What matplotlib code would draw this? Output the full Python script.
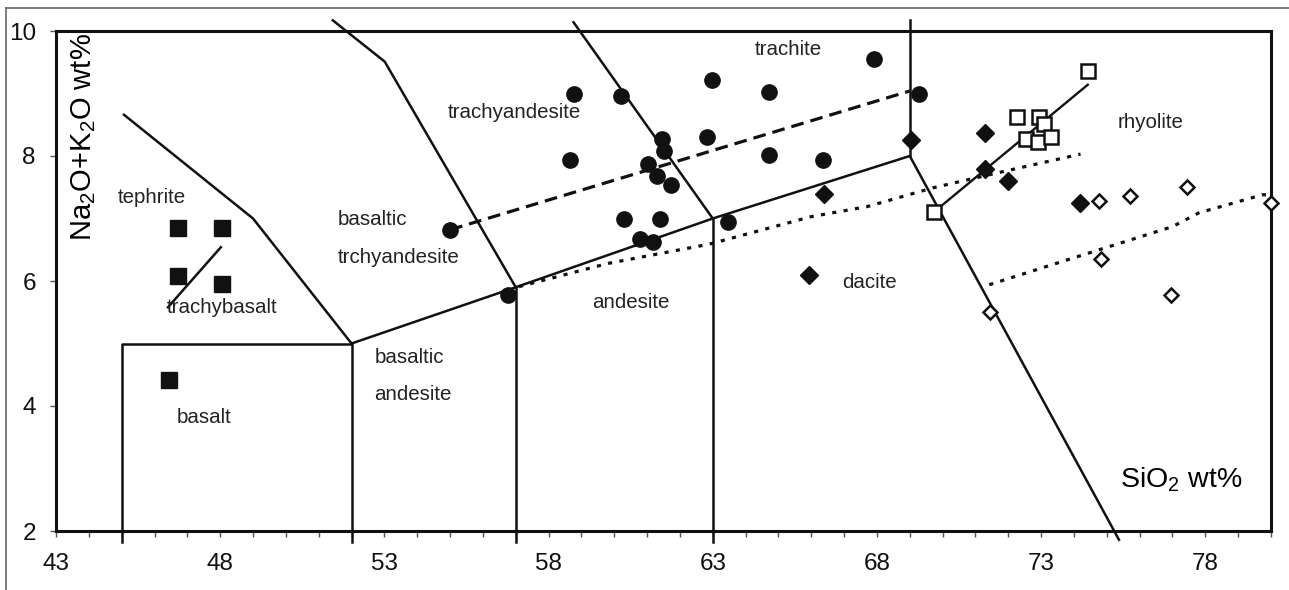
import matplotlib
matplotlib.use("Agg")
import matplotlib.pyplot as plt
from matplotlib.lines import Line2D
from matplotlib.ticker import MultipleLocator

plt.rcParams['font.family'] = ['Liberation Sans', 'DejaVu Sans']
plt.rcParams['mathtext.fontset'] = 'custom'
plt.rcParams['mathtext.rm'] = 'Liberation Sans'
plt.rcParams['mathtext.default'] = 'rm'

# --- data (SiO2, Na2O+K2O) ---
sq_filled_x = [46.7, 48.05, 46.7, 48.05, 46.45]
sq_filled_y = [6.85, 6.85, 6.08, 5.95, 4.42]

circ_x = [55.0, 56.76, 58.77, 58.64, 60.21, 61.45, 61.53, 61.02, 61.3, 61.73, 60.29,
          61.38, 60.77, 61.18, 62.98, 62.82, 63.46, 64.7, 64.7, 66.35, 67.92, 69.29]
circ_y = [6.82, 5.78, 8.99, 7.94, 8.96, 8.28, 8.08, 7.87, 7.68, 7.54, 7.0,
          7.0, 6.67, 6.63, 9.22, 8.31, 6.95, 9.03, 8.02, 7.94, 9.56, 8.99]

dia_filled_x = [66.4, 65.93, 69.04, 71.3, 71.3, 72.0, 74.18]
dia_filled_y = [7.39, 6.1, 8.26, 8.37, 7.8, 7.6, 7.25]

dia_open_x = [74.77, 75.7, 77.44, 80.0, 74.82, 76.95, 71.44]
dia_open_y = [7.28, 7.36, 7.51, 7.25, 6.35, 5.77, 5.51]

sq_open_x = [69.75, 74.42, 72.26, 72.94, 73.1, 72.54, 72.91, 73.3]
sq_open_y = [7.11, 9.36, 8.62, 8.63, 8.52, 8.27, 8.23, 8.31]

# TAS field boundaries
bounds = [
    ([45, 45, 52, 52], [1.83, 5, 5, 1.83]),
    ([52, 57, 63, 69, 75.37], [5, 5.9, 7, 8, 1.86]),
    ([57, 57], [5.9, 1.83]),
    ([63, 63], [7, 1.83]),
    ([69, 69], [8, 10.18]),
    ([45.07, 49.0, 52], [8.66, 7.0, 5]),
    ([51.43, 53.01, 57], [10.17, 9.51, 5.9]),
    ([58.76, 63], [10.14, 7]),
    ([48.02, 46.41], [6.54, 5.58]),
]
trend_solid_x = [69.75, 74.42]
trend_solid_y = [7.11, 9.14]
trend_dash_x = [55.0, 69.0]
trend_dash_y = [6.82, 9.04]
dot1_x = [57.1, 59.8, 62.9, 66.0, 67.7, 69.7, 71.5, 74.2]
dot1_y = [5.91, 6.28, 6.59, 7.03, 7.19, 7.49, 7.71, 8.03]
dot2_x = [71.42, 73.15, 74.77, 77.0, 77.8, 79.74, 80.0]
dot2_y = [5.94, 6.23, 6.5, 6.87, 7.09, 7.38, 7.38]

labels = [
    ("tephrite", 44.89, 7.34), ("basaltic", 51.58, 6.98), ("trchyandesite", 51.58, 6.37),
    ("trachybasalt", 46.38, 5.58), ("basalt", 46.68, 3.82), ("basaltic", 52.7, 4.78),
    ("andesite", 52.7, 4.18), ("trachyandesite", 54.93, 8.7), ("trachite", 64.27, 9.7),
    ("andesite", 59.34, 5.65), ("dacite", 66.95, 5.98), ("rhyolite", 75.32, 8.53),
]

fig = plt.figure(figsize=(12.89, 5.90), dpi=100)
ax = fig.add_axes([56 / 1289, 1 - 531 / 590, (1271 - 56) / 1289, 500 / 590])

k = '#111111'
for bx, by in bounds:
    ax.plot(bx, by, color=k, lw=1.8, clip_on=False, zorder=2)
ax.plot(trend_solid_x, trend_solid_y, color=k, lw=1.7, zorder=2)
ax.plot(trend_dash_x, trend_dash_y, color=k, lw=2.3, dashes=(4, 2.2), zorder=2)
ax.plot(dot1_x, dot1_y, color=k, lw=2.3, dashes=(1.3, 2.3), zorder=2)
ax.plot(dot2_x, dot2_y, color=k, lw=2.3, dashes=(1.3, 2.3), zorder=2)

ax.plot(sq_filled_x, sq_filled_y, 's', ms=11.5, color=k, ls='none', zorder=3)
ax.plot(circ_x, circ_y, 'o', ms=11, color=k, ls='none', zorder=3)
ax.plot(dia_filled_x, dia_filled_y, 'D', ms=9, color=k, ls='none', zorder=3)
ax.plot(dia_open_x, dia_open_y, 'D', ms=7.5, mfc='white', mec=k, mew=1.8, ls='none',
        zorder=3, clip_on=False)
ax.plot(sq_open_x, sq_open_y, 's', ms=10.5, mfc='white', mec=k, mew=1.8, ls='none', zorder=3)

for t, x, y in labels:
    ax.text(x, y, t, fontsize=14.8, ha='left', va='center', color='#222222')

ax.text(43.85, 9.97, 'Na$_2$O+K$_2$O wt%', rotation=90, fontsize=21, ha='center', va='top')
ax.text(75.4, 2.82, 'SiO$_2$ wt%', fontsize=20.5, ha='left', va='center')

ax.set_xlim(43, 80)
ax.set_ylim(2, 10)
ax.set_xticks([43, 48, 53, 58, 63, 68, 73, 78])
ax.xaxis.set_minor_locator(MultipleLocator(1))
ax.set_yticks([2, 4, 6, 8, 10])
ax.tick_params(which='both', direction='out', length=4.5, width=1, color='#555555',
               labelcolor='#111111')
ax.tick_params(axis='x', labelsize=17.5, pad=11)
ax.tick_params(axis='y', labelsize=17.5, pad=10)
for s in ax.spines.values():
    s.set_linewidth(2.2)
    s.set_color(k)

# outer chart border (top and left)
fig.add_artist(Line2D([0.005, 1.0], [0.9864, 0.9864], color='#666666', lw=1.2))
fig.add_artist(Line2D([0.005, 0.005], [0.0, 0.9864], color='#666666', lw=1.2))

fig.savefig('out.png', dpi=100)
